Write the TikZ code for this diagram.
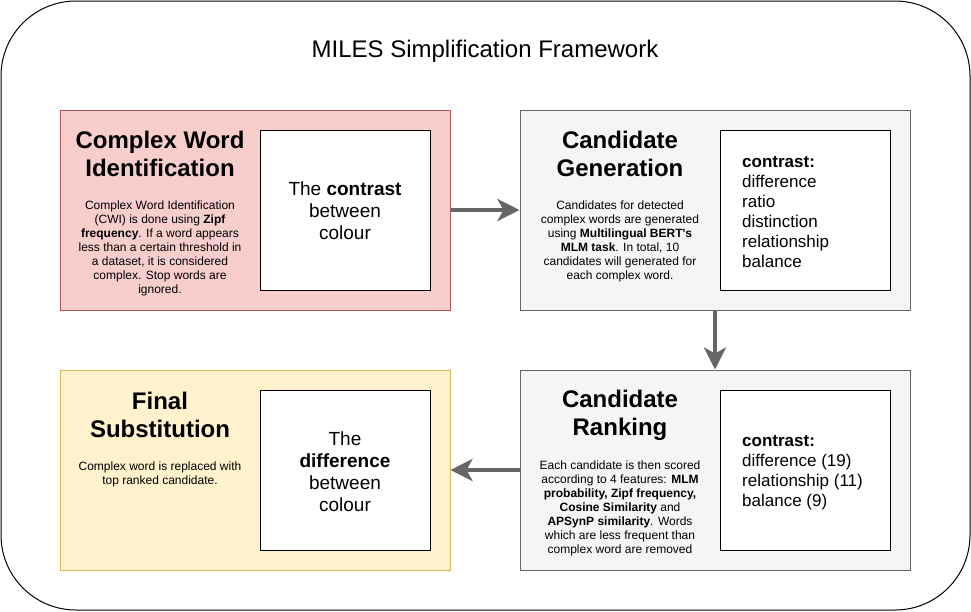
\documentclass[tikz,border=0pt]{standalone}
\usepackage{fontspec}
\setmainfont{Liberation Sans}[Ligatures=TeXOff]
\usetikzlibrary{arrows.meta}

\definecolor{redfill}{HTML}{F8CECC}
\definecolor{redline}{HTML}{B85450}
\definecolor{greyfill}{HTML}{F5F5F5}
\definecolor{greyline}{HTML}{666666}
\definecolor{yellowfill}{HTML}{FFF2CC}
\definecolor{yellowline}{HTML}{D6B656}

\begin{document}
\begin{tikzpicture}[x=1pt,y=-1pt,
	stagebox/.style={draw,line width=1pt,minimum width=390pt,minimum height=200pt,inner sep=0pt},
	wordbox/.style={draw=black,fill=white,line width=1pt,minimum width=170pt,minimum height=160pt,inner sep=0pt},
	heading/.style={align=center,font=\fontsize{24}{28}\selectfont\bfseries},
	blurb/.style={align=center,font=\fontsize{12}{14}\selectfont},
	example/.style={align=center,font=\fontsize{19}{22}\selectfont},
	wordlist/.style={align=left,anchor=west,inner sep=0pt,font=\fontsize{17}{20}\selectfont},
	flow/.style={draw=greyline,line width=4pt,-{Stealth[length=22pt,width=22pt,inset=6pt]}}]
	\useasboundingbox (0,0) rectangle (971,611);
	\node[draw,line width=1pt,rounded corners=75pt,minimum width=969pt,minimum height=609pt] (frame) at (485.5,305.5) {};
	\node[font=\fontsize{24}{29}\selectfont] (title) at (485,51) {MILES Simplification Framework};
	% the four stages
	\node[stagebox,fill=redfill,draw=redline] (cwi) at (255,210) {};
	\node[stagebox,fill=greyfill,draw=greyline] (cg) at (715,210) {};
	\node[stagebox,fill=greyfill,draw=greyline] (cr) at (715,470) {};
	\node[stagebox,fill=yellowfill,draw=yellowline] (fs) at (255,470) {};
	\node[wordbox] (cwiword) at (345,210) {};
	\node[wordbox] (cgword) at (805,210) {};
	\node[wordbox] (crword) at (805,470) {};
	\node[wordbox] (fsword) at (345,470) {};
	% headings and descriptions
	\node[heading] (cwihead) at (160,154) {Complex Word\\Identification};
	\node[blurb] (cwitext) at (160,248) {Complex Word Identification\\(CWI) is done using \textbf{Zipf}\\\textbf{frequency}. If a word appears\\less than a certain threshold in\\a dataset, it is considered\\complex. Stop words are\\ignored.};
	\node[heading] (cghead) at (620,154) {Candidate\\Generation};
	\node[blurb] (cgtext) at (620,241) {Candidates for detected\\complex words are generated\\using \textbf{Multilingual BERT's}\\\textbf{MLM task}. In total, 10\\candidates will generated for\\each complex word.};
	\node[heading] (crhead) at (620,415) {Candidate\\Ranking};
	\node[blurb] (crtext) at (620,508) {Each candidate is then scored\\according to 4 features: \textbf{MLM}\\\textbf{probability, Zipf frequency,}\\\textbf{Cosine Similarity} and\\\textbf{APSynP similarity}. Words\\which are less frequent than\\complex word are removed};
	\node[heading] (fshead) at (160,415) {Final\\Substitution};
	\node[blurb] (fstext) at (160,474) {Complex word is replaced with\\top ranked candidate.};
	% example words
	\node[example] (cwiex) at (345,211) {The \textbf{contrast}\\between\\colour};
	\node[wordlist] (cgex) at (742,212) {\textbf{contrast:}\\difference\\ratio\\distinction\\relationship\\balance};
	\node[wordlist] (crex) at (742,473) {\textbf{contrast:}\\difference (19)\\relationship (11)\\balance (9)};
	\node[example] (fsex) at (345,472) {The\\\textbf{difference}\\between\\colour};
	% connectors
	\draw[flow] (cwi.east) -- (cg.west);
	\draw[flow] (cg.south) -- (cr.north);
	\draw[flow] (cr.west) -- (fs.east);
\end{tikzpicture}
\end{document}
